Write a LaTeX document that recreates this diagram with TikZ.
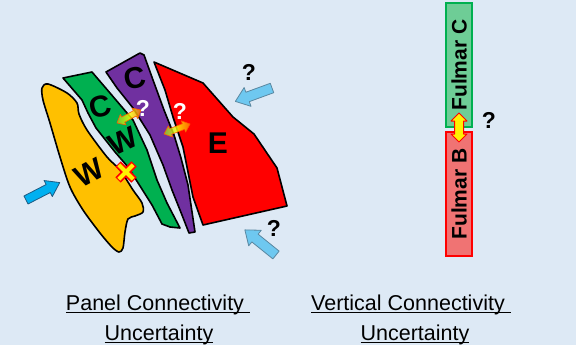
\documentclass[tikz,border=0pt]{standalone}
\usepackage{fontspec}
\setmainfont{Liberation Sans}
\definecolor{bgc}{RGB}{221,233,245}
\definecolor{wyellow}{RGB}{255,192,0}
\definecolor{cgreen}{RGB}{0,176,80}
\definecolor{cpurple}{RGB}{112,48,160}
\definecolor{ered}{RGB}{255,0,0}
\definecolor{barrowc}{RGB}{0,176,240}
\definecolor{barrowe}{RGB}{30,90,130}
\definecolor{lbarrowc}{RGB}{110,200,240}
\definecolor{lbarrowe}{RGB}{90,135,160}
\definecolor{fcfill}{RGB}{110,205,150}
\definecolor{fbfill}{RGB}{240,115,115}
\definecolor{ygreen}{RGB}{140,210,40}
\newcommand{\blockarrow}[7]{\begin{scope}[shift={#2},rotate=#3]
\draw[#1] (0,-#5) -- ({#4-#7},-#5) -- ({#4-#7},-#6) -- (#4,0) -- ({#4-#7},#6) -- ({#4-#7},#5) -- (0,#5) -- cycle;
\end{scope}}
\newcommand{\dblarrow}[7]{\begin{scope}[shift={#2},rotate=#3]
\draw[#1] (0,0) -- (#7,-#6) -- (#7,-#5) -- ({#4-#7},-#5) -- ({#4-#7},-#6) -- (#4,0) -- ({#4-#7},#6) -- ({#4-#7},#5) -- (#7,#5) -- (#7,#6) -- cycle;
\end{scope}}
\newcommand{\ulx}[1]{\setbox0\hbox{#1}\rlap{\rule[-3pt]{\wd0}{0.9pt}}\box0}
\begin{document}
\begin{tikzpicture}[x=1pt,y=-1pt,
  region/.style={draw=black, line width=1.6pt, line join=round},
  letter/.style={font=\fontsize{30}{32}\selectfont\bfseries, inner sep=0pt},
  qmark/.style={font=\fontsize{23}{25}\selectfont\bfseries, inner sep=0pt},
  caption/.style={font=\fontsize{21.5}{26}\selectfont, anchor=base, inner sep=0pt},
  fulmarbox/.style={font=\fontsize{21}{23}\selectfont\bfseries, rotate=90, inner sep=0pt, line width=1.3pt, minimum width=124pt, minimum height=26pt},
  bluearrow/.style={fill=barrowc, draw=barrowe, line width=0.8pt, line join=round},
  lbluearrow/.style={fill=lbarrowc, draw=lbarrowe, line width=0.8pt, line join=round},
  gaparrow/.style={left color=ygreen, right color=orange, middle color=yellow, fill opacity=0.8, draw=orange!70!red, line width=0.6pt, line join=round},
  fularrow/.style={fill=yellow, draw=red, line width=1pt, line join=round}]
\fill[bgc] (0,0) rectangle (576,345);
\useasboundingbox (0,0) rectangle (576,345);

% regions
\draw[region, fill=wyellow] plot[smooth cycle, tension=0.5] coordinates {(42,88) (48,84) (67,93) (77,103) (79,114) (87,130) (107,157) (120,170) (133,190) (142,203) (143,212) (135,216) (128,219) (125,232) (123,248) (119,252) (112,247) (100,233) (83,210) (70,187) (60,157) (50,123) (43,100)};
\draw[region, fill=cgreen] (63,78) -- (92,72) -- (110,93) -- (133,120) -- (147,150) -- (157,180) -- (167,203) -- (180,228) -- (170,227) -- (162,224) -- (152,205) -- (140,186) -- (128,167) -- (115,152) -- (96,128) -- (88,113) -- (82,100) -- cycle;
\draw[region, fill=cpurple] (106,72) -- (140,53) -- (144,55) -- (153,80) -- (164,110) -- (174,135) -- (181,158) -- (188,185) -- (195,232) -- (189,233) -- (182,215) -- (172,190) -- (163,165) -- (150,135) -- (133,108) -- (117,88) -- cycle;
\draw[region, fill=ered] (154,62) -- (203,83) -- (233,117) -- (254,134) -- (277,168) -- (287,206) -- (203,225) -- (193,197) -- (183,147) -- (173,117) -- (165,90) -- cycle;

% letters
\node[letter, rotate=12] (cp) at (135,78) {C};
\node[letter, rotate=15] (cg) at (100,107) {C};
\node[letter, rotate=25] (wg) at (123,141) {W};
\node[letter, rotate=28] (wy) at (89,173) {W};
\node[letter] (ee) at (218,143) {E};

% uncertainty arrows
\dblarrow{gaparrow}{(117,123)}{28.4}{27.3}{3}{6}{7}
\dblarrow{gaparrow}{(164,134)}{21}{27.9}{3}{6}{7}
\node[qmark, white] (q1) at (143,108) {?};
\node[qmark, white] (q2) at (180,111) {?};

% cross
\draw[red, line width=7.5pt] (118,164) -- (134,180) (134,164) -- (118,180);
\draw[yellow, line width=4.2pt] (118.8,164.8) -- (133.2,179.2) (133.2,164.8) -- (118.8,179.2);

% outside arrows
\blockarrow{bluearrow}{(26,200)}{27.3}{38}{4.5}{9}{13}
\blockarrow{lbluearrow}{(272,88)}{-159.9}{39}{5}{10}{13}
\blockarrow{lbluearrow}{(276,255)}{141.1}{40}{5}{10}{13}
\node[qmark] (q3) at (249,72) {?};
\node[qmark] (q4) at (274,228) {?};

% fulmar
\node[fulmarbox, draw=cgreen, fill=fcfill] (fc) at (459,65) {Fulmar C};
\node[fulmarbox, draw=red, fill=fbfill] (fb) at (459,194) {Fulmar B};
\dblarrow{fularrow}{(459,113)}{-90}{29}{4.5}{8}{8}
\node[qmark] (q5) at (489,120) {?};

% captions
\node[caption] (c1) at (158,310) {\ulx{Panel Connectivity\ }};
\node[caption] (c2) at (159,340) {\ulx{Uncertainty}};
\node[caption] (c3) at (411,310) {\ulx{Vertical Connectivity\ }};
\node[caption] (c4) at (415,340) {\ulx{Uncertainty}};
\end{tikzpicture}
\end{document}
